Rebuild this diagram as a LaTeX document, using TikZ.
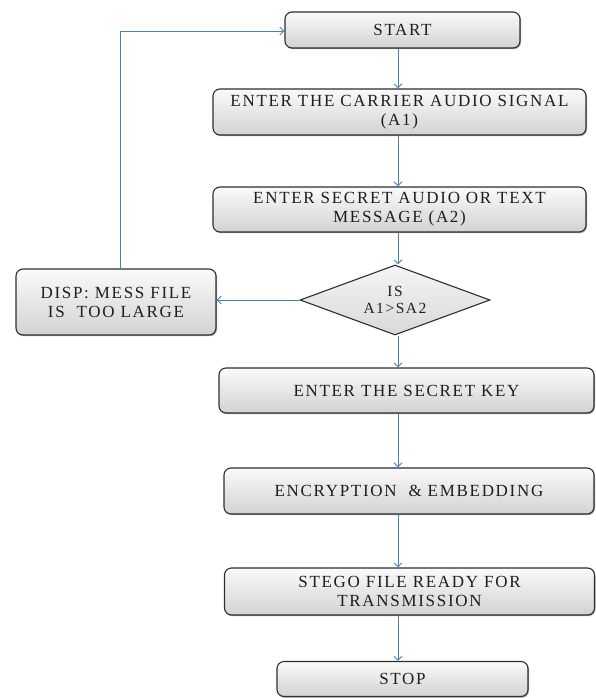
\documentclass[tikz,border=0pt]{standalone}
\usepackage{fontspec}
\setmainfont{Liberation Serif}[LetterSpace=10]
\usetikzlibrary{shapes.geometric,arrows.meta,shadows}
\definecolor{arrblue}{HTML}{4A7EBB}
\definecolor{boxedge}{HTML}{2E2E2E}
\definecolor{txt}{HTML}{1E1E1E}
\tikzset{
  procbox/.style={draw=boxedge, line width=1.1pt, rounded corners=7pt,
    top color=gray!4, bottom color=gray!35, align=center, text=txt,
    font=\fontsize{17}{19}\selectfont, inner sep=2pt,
    drop shadow={shadow xshift=1pt, shadow yshift=-1.2pt, opacity=0.35, fill=black}},
  decbox/.style={diamond, draw=boxedge, line width=1.1pt, text=txt,
    top color=gray!8, bottom color=gray!30, align=center,
    font=\fontsize{15.5}{17}\selectfont, inner sep=0pt, aspect=2.7},
  arr/.style={draw=arrblue, line width=0.9pt, -{Straight Barb[length=4pt,width=8pt]}},
}
\begin{document}
\begin{tikzpicture}[x=1pt,y=-1pt]
\useasboundingbox (0,0) rectangle (595,698);
\coordinate (sp) at (398,0);
\node[procbox, minimum width=235pt, minimum height=36pt] (start) at (402.5,30) {START};
\node[procbox, minimum width=373pt, minimum height=46pt] (carrier) at (399.5,112) {ENTER THE CARRIER AUDIO SIGNAL\\(A1)};
\node[procbox, minimum width=373pt, minimum height=45pt] (secret) at (399.5,209.5) {ENTER SECRET AUDIO OR TEXT\\MESSAGE (A2)};
\node[decbox, minimum width=190pt, minimum height=70pt] (dec) at (395,300) {IS\\A1>SA2};
\node[procbox, minimum width=200pt, minimum height=66pt] (disp) at (116,302) {DISP: MESS\ FILE\\IS\ \ TOO LARGE};
\node[procbox, minimum width=375pt, minimum height=45pt] (key) at (406.5,390.5) {ENTER THE SECRET KEY};
\node[procbox, minimum width=370pt, minimum height=46pt] (enc) at (409,491) {ENCRYPTION \ \& EMBEDDING};
\node[procbox, minimum width=370pt, minimum height=47pt] (stego) at (409.5,591.5) {STEGO FILE READY FOR\\TRANSMISSION};
\node[procbox, minimum width=251pt, minimum height=35pt] (stop) at (402.5,679) {STOP};
\coordinate (lp) at (120,31);
\draw[arr] (start.south -| sp) -- (carrier.north -| sp);
\draw[arr] (carrier.south -| sp) -- (secret.north -| sp);
\draw[arr] (secret.south -| sp) -- (dec.north -| sp);
\draw[arr] (dec.south -| sp) -- (key.north -| sp);
\draw[arr] (key.south -| sp) -- (enc.north -| sp);
\draw[arr] (enc.south -| sp) -- (stego.north -| sp);
\draw[arr] (stego.south -| sp) -- (stop.north -| sp);
\draw[arr] (dec.west) -- (disp.east |- dec.west);
\draw[arr] (disp.north -| lp) -- (lp) -- (lp -| start.west);
\end{tikzpicture}
\end{document}
